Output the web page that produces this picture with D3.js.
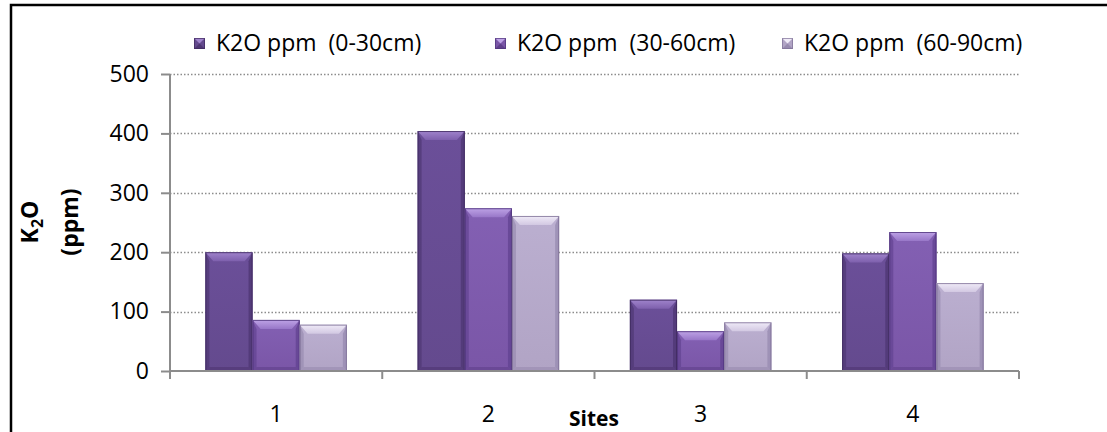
<!DOCTYPE html>
<html>
<head>
<meta charset="utf-8">
<script src="https://cdn.jsdelivr.net/npm/d3@7"></script>
<style>
  html, body { margin: 0; padding: 0; background: #fff; }
  svg { display: block; font-family: "Open Sans", "Noto Sans", sans-serif; }
</style>
</head>
<body>
<svg id="chart" width="1107" height="432"></svg>
<script>
// Sites along the x axis
const sites = ["1", "2", "3", "4"];
// Soil depth series
const seriesNames = ["K2O ppm  (0-30cm)", "K2O ppm  (30-60cm)", "K2O ppm  (60-90cm)"];
// K2O (ppm) per site, one array per depth
const depth0to30 = [200, 404, 120, 198];
const depth30to60 = [86, 274, 67, 234];
const depth60to90 = [78, 261, 82, 148];
const yTicks = [0, 100, 200, 300, 400, 500];

const seriesValues = [depth0to30, depth30to60, depth60to90];

// Bar styling per series: front face, top bevel, side bevels, bottom bevel, outline
const palette = [
  { front: "#644a8e", frontTop: "#6b4f99", topHi: "#a084cc", top: "#7e60ad", side: "#4f3774", bottom: "#4e3672", edge: "#3f2a5e" },
  { front: "#7a56a7", frontTop: "#8360b3", topHi: "#bea3e6", top: "#9877c8", side: "#634392", bottom: "#5f3f8a", edge: "#4f347a" },
  { front: "#b1a4c5", frontTop: "#bbafd0", topHi: "#f0ebf8", top: "#d2c8e2", side: "#998cb1", bottom: "#978aaf", edge: "#7e7196" }
];

const svg = d3.select("#chart");
const defs = svg.append("defs");
palette.forEach((c, i) => {
  const gf = defs.append("linearGradient").attr("id", "front" + i)
    .attr("x1", 0).attr("y1", 0).attr("x2", 0).attr("y2", 1);
  gf.append("stop").attr("offset", "0%").attr("stop-color", c.frontTop);
  gf.append("stop").attr("offset", "100%").attr("stop-color", c.front);
  const gt = defs.append("linearGradient").attr("id", "top" + i)
    .attr("x1", 0).attr("y1", 0).attr("x2", 0).attr("y2", 1);
  gt.append("stop").attr("offset", "0%").attr("stop-color", c.topHi);
  gt.append("stop").attr("offset", "100%").attr("stop-color", c.top);
});

const margin = { left: 170, right: 1019, top: 74, bottom: 371 };

const x0 = d3.scaleBand().domain(sites).range([margin.left, margin.right]).padding(0);
const x1 = d3.scaleBand().domain(d3.range(3)).range([0, x0.bandwidth()]).paddingInner(0).paddingOuter(0.75);
const y = d3.scaleLinear().domain([0, 500]).range([margin.bottom, margin.top]);

// Frame (left and top edges)
svg.append("path")
  .attr("d", "M11,432 L11,5 L1107,5")
  .attr("fill", "none").attr("stroke", "#000").attr("stroke-width", 2.5);

// Gridlines
svg.append("g").selectAll("line")
  .data(yTicks.filter(d => d > 0))
  .join("line")
  .attr("x1", margin.left).attr("x2", margin.right)
  .attr("y1", d => Math.round(y(d)) + 0.5).attr("y2", d => Math.round(y(d)) + 0.5)
  .attr("stroke", "#8c8c8c").attr("stroke-width", 1.3)
  .attr("stroke-dasharray", "1.5,2");

// Y axis
const yAxis = svg.append("g")
  .attr("transform", `translate(${margin.left},0)`)
  .call(d3.axisLeft(y).tickValues(yTicks).tickSize(9).tickPadding(12).tickFormat(d3.format("d")));
yAxis.select(".domain").attr("stroke", "#8c8c8c").attr("stroke-width", 2).attr("d", `M0,${margin.top}V${margin.bottom}`);
yAxis.selectAll(".tick line").attr("stroke", "#8c8c8c").attr("stroke-width", 2);
yAxis.selectAll(".tick text").attr("font-size", 23).attr("fill", "#000")
  .attr("font-family", "'Open Sans', 'Noto Sans', sans-serif");

// Bars with bevelled faces
const inset = 8, topH = 9, sideW = 4, botH = 4;
const groups = svg.append("g").selectAll("g")
  .data(sites)
  .join("g")
  .attr("transform", d => `translate(${x0(d)},0)`);

groups.each(function (site, si) {
  const g = d3.select(this);
  seriesValues.forEach((vals, k) => {
    const c = palette[k];
    const bx = x1(k), bw = x1.bandwidth();
    const top = y(vals[si]), base = y(0);
    const x2 = bx + bw;
    const bar = g.append("g");
    bar.append("rect")
      .attr("x", bx).attr("y", top).attr("width", bw).attr("height", base - top)
      .attr("fill", `url(#front${k})`);
    // left and right bevels
    bar.append("path")
      .attr("d", `M${bx},${top}L${bx + sideW},${top + topH}L${bx + sideW},${base - botH}L${bx},${base}Z`)
      .attr("fill", c.side).attr("opacity", 0.7);
    bar.append("path")
      .attr("d", `M${x2},${top}L${x2 - sideW},${top + topH}L${x2 - sideW},${base - botH}L${x2},${base}Z`)
      .attr("fill", c.side).attr("opacity", 0.8);
    // bottom bevel
    bar.append("path")
      .attr("d", `M${bx},${base}L${bx + sideW},${base - botH}L${x2 - sideW},${base - botH}L${x2},${base}Z`)
      .attr("fill", c.bottom).attr("opacity", 0.6);
    // top bevel
    bar.append("path")
      .attr("d", `M${bx},${top}L${x2},${top}L${x2 - inset},${top + topH}L${bx + inset},${top + topH}Z`)
      .attr("fill", `url(#top${k})`);
    // outline
    bar.append("rect")
      .attr("x", bx + 0.5).attr("y", top + 0.5).attr("width", bw - 1).attr("height", base - top - 1)
      .attr("fill", "none").attr("stroke", c.edge).attr("stroke-width", 1).attr("opacity", 0.8);
  });
});

// X axis
const xAxisG = svg.append("g").attr("transform", `translate(0,${margin.bottom})`);
xAxisG.append("line")
  .attr("x1", margin.left).attr("x2", margin.right)
  .attr("y1", 0).attr("y2", 0)
  .attr("stroke", "#8c8c8c").attr("stroke-width", 2);
const boundaries = sites.map(s => x0(s)).concat([x0(sites[sites.length - 1]) + x0.bandwidth()]);
xAxisG.selectAll("line.tk")
  .data(boundaries)
  .join("line").attr("class", "tk")
  .attr("x1", d => d).attr("x2", d => d)
  .attr("y1", 0).attr("y2", 8)
  .attr("stroke", "#8c8c8c").attr("stroke-width", 2);
xAxisG.selectAll("text")
  .data(sites)
  .join("text")
  .attr("x", d => x0(d) + x0.bandwidth() / 2)
  .attr("y", 51)
  .attr("text-anchor", "middle")
  .attr("font-size", 23)
  .text(d => d);

// X axis title
svg.append("text")
  .attr("x", 594).attr("y", 426)
  .attr("text-anchor", "middle")
  .attr("font-size", 21).attr("font-weight", "bold")
  .text("Sites");

// Y axis title
const yTitle = svg.append("g").attr("transform", "translate(0,222) rotate(-90)");
const t1 = yTitle.append("text")
  .attr("x", 0).attr("y", 38)
  .attr("text-anchor", "middle")
  .attr("font-size", 23).attr("font-weight", "bold");
t1.append("tspan").text("K");
t1.append("tspan").attr("font-size", 16).attr("dy", 5).text("2");
t1.append("tspan").attr("dy", -5).text("O");
yTitle.append("text")
  .attr("x", 0).attr("y", 78)
  .attr("text-anchor", "middle")
  .attr("font-size", 23).attr("font-weight", "bold")
  .text("(ppm)");

// Legend
const legendX = [194, 495, 782];
const legend = svg.append("g").selectAll("g")
  .data(seriesNames)
  .join("g")
  .attr("transform", (d, i) => `translate(${legendX[i]},38)`);
legend.each(function (name, i) {
  const g = d3.select(this);
  const c = palette[i];
  g.append("rect").attr("x", 0).attr("y", 0).attr("width", 11).attr("height", 11).attr("fill", c.front);
  g.append("path").attr("d", "M0,0L11,0L5.5,5.5Z").attr("fill", c.topHi);
  g.append("path").attr("d", "M0,11L11,11L5.5,5.5Z").attr("fill", c.bottom);
  g.append("rect").attr("x", 0.5).attr("y", 0.5).attr("width", 10).attr("height", 10)
    .attr("fill", "none").attr("stroke", c.edge).attr("stroke-width", 1).attr("opacity", 0.7);
  g.append("text")
    .attr("x", 22).attr("y", 12.5)
    .attr("font-size", 23)
    .style("white-space", "pre")
    .text(name);
});
</script>
</body>
</html>
